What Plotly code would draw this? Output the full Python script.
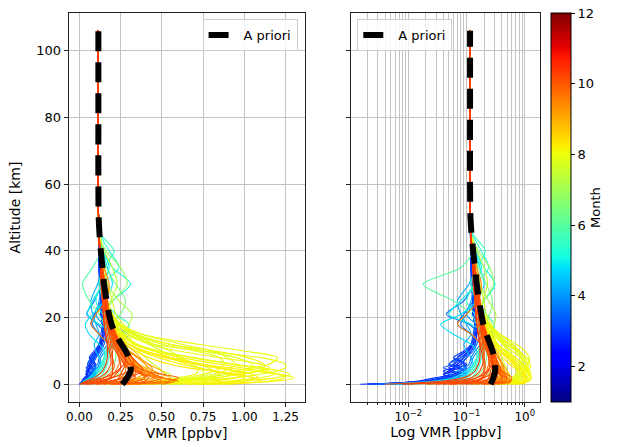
import numpy as np
import plotly.graph_objects as go

# ---------------- data ----------------
ALT_LOW = [0, 1, 2, 3, 4, 5, 6, 8, 10, 12, 15, 18, 21, 25, 30, 35, 40, 45]
ALT_TOP = [50, 60, 80, 106]
VMR_TOP = [0.116, 0.114, 0.113, 0.113]

APRIORI_ALT = [0, 2, 4, 6, 8, 10, 12, 15, 18, 21, 25, 30, 35, 40, 45, 50, 60, 80, 106]
APRIORI_VMR = [0.26, 0.29, 0.31, 0.31, 0.30, 0.28, 0.255, 0.22, 0.195, 0.18, 0.165,
               0.15, 0.14, 0.13, 0.122, 0.117, 0.115, 0.115, 0.115]

# blue group (late winter)
p_b1 = [0.002, 0.02, 0.05, 0.08, 0.05, 0.06, 0.08, 0.10, 0.12, 0.14, 0.15, 0.14, 0.13, 0.13, 0.125, 0.12, 0.118, 0.117]
p_b2 = [0.0015, 0.02, 0.04, 0.06, 0.08, 0.10, 0.09, 0.07, 0.10, 0.13, 0.15, 0.14, 0.13, 0.13, 0.13, 0.125, 0.12, 0.118]
p_b3 = [0.003, 0.015, 0.03, 0.05, 0.04, 0.07, 0.10, 0.06, 0.09, 0.12, 0.14, 0.15, 0.14, 0.13, 0.12, 0.12, 0.12, 0.118]
p_b4 = [0.004, 0.03, 0.06, 0.09, 0.06, 0.04, 0.06, 0.09, 0.11, 0.12, 0.13, 0.14, 0.14, 0.13, 0.125, 0.12, 0.118, 0.117]
p_b5 = [0.002, 0.025, 0.05, 0.07, 0.10, 0.08, 0.05, 0.08, 0.12, 0.14, 0.12, 0.07, 0.09, 0.13, 0.14, 0.13, 0.12, 0.118]
p_b6 = [0.006, 0.04, 0.07, 0.05, 0.08, 0.10, 0.08, 0.10, 0.13, 0.15, 0.16, 0.11, 0.045, 0.09, 0.13, 0.13, 0.12, 0.118]
p_b7 = [0.003, 0.03, 0.08, 0.10, 0.07, 0.09, 0.11, 0.12, 0.14, 0.17, 0.12, 0.08, 0.10, 0.14, 0.15, 0.14, 0.125, 0.118]
p_b8 = [0.008, 0.05, 0.08, 0.10, 0.09, 0.11, 0.12, 0.13, 0.16, 0.22, 0.30, 0.15, 0.10, 0.12, 0.13, 0.13, 0.12, 0.118]
p_b9 = [0.005, 0.03, 0.05, 0.04, 0.06, 0.05, 0.07, 0.09, 0.11, 0.13, 0.14, 0.14, 0.13, 0.13, 0.125, 0.12, 0.118, 0.117]
p_b10 = [0.004, 0.04, 0.07, 0.09, 0.11, 0.12, 0.13, 0.12, 0.10, 0.09, 0.12, 0.10, 0.08, 0.07, 0.11, 0.14, 0.13, 0.118]
p_b11 = [0.002, 0.02, 0.04, 0.07, 0.09, 0.07, 0.05, 0.07, 0.10, 0.12, 0.14, 0.14, 0.13, 0.13, 0.125, 0.12, 0.118, 0.117]
p_b12 = [0.003, 0.03, 0.06, 0.04, 0.05, 0.08, 0.06, 0.08, 0.11, 0.13, 0.14, 0.14, 0.13, 0.13, 0.125, 0.12, 0.118, 0.117]

# cyan / green group (spring - early summer)
p_c1 = [0.006, 0.04, 0.08, 0.10, 0.12, 0.13, 0.14, 0.15, 0.15, 0.12, 0.06, 0.036, 0.08, 0.15, 0.20, 0.17, 0.14, 0.12]
p_c2 = [0.01, 0.06, 0.10, 0.12, 0.13, 0.14, 0.15, 0.16, 0.18, 0.20, 0.18, 0.16, 0.15, 0.20, 0.31, 0.20, 0.14, 0.12]
p_c3 = [0.02, 0.08, 0.12, 0.14, 0.15, 0.16, 0.17, 0.18, 0.20, 0.22, 0.28, 0.30, 0.22, 0.15, 0.12, 0.15, 0.21, 0.13]
p_c4 = [0.01, 0.05, 0.09, 0.11, 0.12, 0.13, 0.14, 0.15, 0.16, 0.17, 0.17, 0.15, 0.12, 0.06, 0.018, 0.08, 0.13, 0.12]
p_c5 = [0.05, 0.10, 0.14, 0.16, 0.18, 0.20, 0.21, 0.22, 0.22, 0.20, 0.18, 0.20, 0.25, 0.28, 0.22, 0.16, 0.13, 0.12]
p_c6 = [0.08, 0.15, 0.20, 0.24, 0.26, 0.27, 0.28, 0.28, 0.26, 0.24, 0.20, 0.17, 0.16, 0.20, 0.29, 0.25, 0.16, 0.12]
p_c7 = [0.004, 0.03, 0.06, 0.08, 0.10, 0.12, 0.13, 0.15, 0.17, 0.20, 0.22, 0.12, 0.05, 0.08, 0.14, 0.18, 0.15, 0.12]
p_c8 = [0.15, 0.30, 0.40, 0.42, 0.40, 0.38, 0.35, 0.32, 0.30, 0.28, 0.27, 0.30, 0.32, 0.24, 0.17, 0.14, 0.13, 0.12]
p_c9 = [0.20, 0.35, 0.40, 0.38, 0.35, 0.33, 0.30, 0.28, 0.26, 0.25, 0.25, 0.22, 0.18, 0.19, 0.23, 0.20, 0.15, 0.12]
p_c10 = [0.01, 0.05, 0.09, 0.12, 0.14, 0.15, 0.16, 0.17, 0.18, 0.19, 0.20, 0.18, 0.14, 0.10, 0.14, 0.24, 0.18, 0.125]

# yellow group (summer)
p_y1 = [0.6, 1.0, 1.2, 1.28, 1.22, 1.1, 0.95, 0.7, 0.48, 0.35, 0.26, 0.21, 0.18, 0.16, 0.15, 0.14, 0.13, 0.12]
p_y2 = [0.4, 0.7, 0.95, 1.1, 1.2, 1.25, 1.25, 1.1, 0.75, 0.45, 0.28, 0.22, 0.19, 0.17, 0.15, 0.14, 0.13, 0.12]
p_y3 = [0.8, 1.15, 1.25, 1.2, 1.05, 0.9, 0.75, 0.55, 0.4, 0.3, 0.24, 0.2, 0.18, 0.16, 0.15, 0.14, 0.13, 0.12]
p_y4 = [0.3, 0.55, 0.75, 0.9, 1.0, 1.05, 1.05, 0.95, 0.75, 0.55, 0.35, 0.25, 0.2, 0.17, 0.15, 0.14, 0.13, 0.12]
p_y5 = [0.5, 0.8, 0.95, 1.0, 0.95, 0.85, 0.75, 0.55, 0.4, 0.3, 0.24, 0.2, 0.17, 0.16, 0.15, 0.14, 0.13, 0.12]
p_y6 = [0.35, 0.6, 0.8, 0.85, 0.82, 0.78, 0.72, 0.6, 0.5, 0.42, 0.32, 0.24, 0.2, 0.17, 0.15, 0.14, 0.13, 0.12]
p_y7 = [0.25, 0.45, 0.6, 0.7, 0.72, 0.7, 0.65, 0.55, 0.45, 0.35, 0.27, 0.22, 0.19, 0.17, 0.15, 0.14, 0.13, 0.12]
p_y8 = [0.3, 0.5, 0.55, 0.55, 0.5, 0.48, 0.45, 0.4, 0.36, 0.32, 0.3, 0.27, 0.22, 0.2, 0.17, 0.15, 0.13, 0.12]
p_y9 = [0.9, 1.1, 1.05, 0.95, 0.8, 0.65, 0.55, 0.42, 0.34, 0.28, 0.23, 0.2, 0.17, 0.16, 0.15, 0.14, 0.13, 0.12]
p_y10 = [0.4, 0.6, 0.75, 0.85, 0.95, 1.05, 1.15, 1.2, 1.0, 0.72, 0.38, 0.25, 0.2, 0.17, 0.15, 0.14, 0.13, 0.12]
p_y11 = [0.7, 1.2, 1.3, 1.22, 1.1, 0.98, 0.85, 0.62, 0.45, 0.33, 0.25, 0.2, 0.18, 0.16, 0.15, 0.14, 0.13, 0.12]
p_y12 = [0.35, 0.55, 0.7, 0.8, 0.88, 0.92, 0.95, 0.9, 0.8, 0.62, 0.38, 0.25, 0.2, 0.17, 0.15, 0.14, 0.13, 0.12]
p_y13 = [0.45, 0.7, 0.85, 0.95, 1.1, 1.15, 1.1, 0.85, 0.6, 0.42, 0.3, 0.23, 0.19, 0.17, 0.15, 0.14, 0.13, 0.12]
p_y14 = [0.55, 0.9, 1.1, 1.18, 1.15, 1.05, 0.92, 0.68, 0.47, 0.34, 0.26, 0.21, 0.18, 0.16, 0.15, 0.14, 0.13, 0.12]
p_y15 = [0.3, 0.5, 0.65, 0.75, 0.82, 0.86, 0.88, 0.85, 0.7, 0.5, 0.33, 0.24, 0.2, 0.17, 0.15, 0.14, 0.13, 0.12]
p_y16 = [0.65, 0.95, 1.0, 0.92, 0.82, 0.72, 0.62, 0.48, 0.37, 0.3, 0.24, 0.2, 0.18, 0.16, 0.15, 0.14, 0.13, 0.12]
p_y17 = [0.4, 0.62, 0.72, 0.75, 0.75, 0.72, 0.68, 0.62, 0.55, 0.45, 0.33, 0.25, 0.2, 0.17, 0.15, 0.14, 0.13, 0.12]
p_y18 = [0.35, 0.6, 0.82, 0.98, 1.08, 1.12, 1.12, 1.02, 0.82, 0.55, 0.33, 0.24, 0.2, 0.17, 0.15, 0.14, 0.13, 0.12]
p_y19 = [0.75, 1.0, 1.08, 1.05, 0.95, 0.82, 0.7, 0.52, 0.38, 0.3, 0.24, 0.2, 0.17, 0.16, 0.15, 0.14, 0.13, 0.12]

# orange group (late summer)
p_o1 = [0.3, 0.5, 0.55, 0.5, 0.45, 0.4, 0.36, 0.32, 0.28, 0.24, 0.2, 0.18, 0.16, 0.15, 0.14, 0.13, 0.125, 0.118]
p_o2 = [0.2, 0.35, 0.45, 0.48, 0.45, 0.42, 0.4, 0.35, 0.3, 0.26, 0.22, 0.19, 0.17, 0.15, 0.14, 0.13, 0.125, 0.118]
p_o3 = [0.25, 0.4, 0.4, 0.38, 0.36, 0.35, 0.34, 0.32, 0.3, 0.27, 0.23, 0.2, 0.17, 0.15, 0.14, 0.13, 0.125, 0.118]
p_o4 = [0.15, 0.28, 0.35, 0.38, 0.37, 0.35, 0.33, 0.3, 0.27, 0.24, 0.21, 0.18, 0.16, 0.15, 0.14, 0.13, 0.125, 0.118]
p_o5 = [0.4, 0.6, 0.5, 0.42, 0.38, 0.35, 0.32, 0.28, 0.25, 0.22, 0.19, 0.17, 0.16, 0.15, 0.14, 0.13, 0.125, 0.118]
p_o6 = [0.1, 0.2, 0.25, 0.27, 0.28, 0.28, 0.27, 0.25, 0.22, 0.18, 0.12, 0.07, 0.1, 0.16, 0.18, 0.15, 0.13, 0.118]
p_o7 = [0.35, 0.45, 0.5, 0.52, 0.5, 0.46, 0.42, 0.36, 0.3, 0.25, 0.21, 0.18, 0.16, 0.15, 0.14, 0.13, 0.125, 0.118]
p_o8 = [0.18, 0.3, 0.38, 0.42, 0.44, 0.44, 0.42, 0.36, 0.3, 0.25, 0.2, 0.17, 0.16, 0.15, 0.14, 0.13, 0.125, 0.118]
p_o9 = [0.45, 0.55, 0.5, 0.44, 0.4, 0.37, 0.34, 0.3, 0.26, 0.23, 0.2, 0.18, 0.16, 0.15, 0.14, 0.13, 0.125, 0.118]
p_o10 = [0.28, 0.42, 0.46, 0.45, 0.42, 0.38, 0.35, 0.31, 0.27, 0.24, 0.21, 0.18, 0.16, 0.15, 0.14, 0.13, 0.125, 0.118]
p_o11 = [0.2, 0.32, 0.36, 0.38, 0.4, 0.41, 0.4, 0.37, 0.33, 0.28, 0.23, 0.19, 0.17, 0.16, 0.15, 0.14, 0.128, 0.118]
p_o12 = [0.12, 0.25, 0.3, 0.32, 0.33, 0.33, 0.32, 0.3, 0.28, 0.25, 0.22, 0.19, 0.17, 0.16, 0.15, 0.135, 0.125, 0.118]
p_o13 = [0.5, 0.58, 0.48, 0.4, 0.35, 0.32, 0.3, 0.27, 0.24, 0.21, 0.19, 0.17, 0.16, 0.15, 0.14, 0.13, 0.125, 0.118]

# orange-red group (autumn)
p_r1 = [0.1, 0.2, 0.26, 0.3, 0.31, 0.3, 0.29, 0.27, 0.25, 0.23, 0.2, 0.18, 0.17, 0.16, 0.15, 0.135, 0.125, 0.118]
p_r2 = [0.05, 0.15, 0.2, 0.22, 0.24, 0.25, 0.25, 0.24, 0.22, 0.2, 0.18, 0.17, 0.16, 0.15, 0.14, 0.13, 0.125, 0.118]
p_r3 = [0.02, 0.1, 0.15, 0.18, 0.2, 0.21, 0.21, 0.2, 0.19, 0.18, 0.17, 0.16, 0.15, 0.14, 0.135, 0.13, 0.125, 0.118]
p_r4 = [0.2, 0.35, 0.4, 0.38, 0.35, 0.33, 0.3, 0.27, 0.24, 0.22, 0.19, 0.17, 0.16, 0.15, 0.14, 0.13, 0.125, 0.118]
p_r5 = [0.008, 0.06, 0.12, 0.15, 0.17, 0.18, 0.19, 0.19, 0.18, 0.17, 0.16, 0.15, 0.145, 0.14, 0.13, 0.128, 0.122, 0.117]
p_r6 = [0.3, 0.55, 0.6, 0.5, 0.4, 0.35, 0.31, 0.27, 0.24, 0.21, 0.19, 0.17, 0.16, 0.15, 0.14, 0.13, 0.125, 0.118]
p_r7 = [0.12, 0.25, 0.32, 0.34, 0.34, 0.33, 0.32, 0.3, 0.27, 0.24, 0.21, 0.18, 0.17, 0.16, 0.15, 0.135, 0.125, 0.118]
p_r8 = [0.004, 0.04, 0.09, 0.12, 0.14, 0.15, 0.16, 0.17, 0.17, 0.17, 0.16, 0.15, 0.145, 0.14, 0.135, 0.13, 0.123, 0.117]
p_r9 = [0.15, 0.22, 0.24, 0.25, 0.26, 0.27, 0.28, 0.28, 0.26, 0.24, 0.22, 0.2, 0.18, 0.17, 0.15, 0.14, 0.128, 0.118]
p_r10 = [0.06, 0.14, 0.18, 0.2, 0.22, 0.23, 0.24, 0.24, 0.23, 0.22, 0.2, 0.19, 0.18, 0.17, 0.16, 0.14, 0.128, 0.118]
p_r11 = [0.03, 0.12, 0.2, 0.26, 0.3, 0.32, 0.33, 0.32, 0.29, 0.25, 0.21, 0.18, 0.16, 0.15, 0.14, 0.13, 0.125, 0.118]
p_r12 = [0.25, 0.45, 0.5, 0.45, 0.4, 0.36, 0.33, 0.29, 0.26, 0.23, 0.2, 0.18, 0.165, 0.155, 0.145, 0.135, 0.125, 0.118]
p_r13 = [0.01, 0.08, 0.15, 0.2, 0.23, 0.25, 0.27, 0.28, 0.27, 0.25, 0.22, 0.19, 0.17, 0.16, 0.15, 0.135, 0.125, 0.118]
p_r14 = [0.18, 0.3, 0.34, 0.33, 0.31, 0.29, 0.27, 0.25, 0.23, 0.21, 0.19, 0.18, 0.17, 0.16, 0.15, 0.135, 0.125, 0.118]
p_r15 = [0.04, 0.18, 0.28, 0.35, 0.38, 0.38, 0.36, 0.32, 0.28, 0.24, 0.2, 0.17, 0.16, 0.15, 0.14, 0.13, 0.124, 0.118]
p_r16 = [0.35, 0.5, 0.45, 0.4, 0.36, 0.34, 0.32, 0.3, 0.27, 0.24, 0.21, 0.19, 0.17, 0.16, 0.15, 0.135, 0.125, 0.118]
p_r17 = [0.08, 0.16, 0.19, 0.2, 0.2, 0.2, 0.2, 0.2, 0.2, 0.19, 0.18, 0.17, 0.16, 0.15, 0.14, 0.13, 0.124, 0.118]
p_r18 = [0.22, 0.4, 0.42, 0.38, 0.33, 0.3, 0.28, 0.26, 0.24, 0.22, 0.2, 0.19, 0.18, 0.17, 0.155, 0.14, 0.128, 0.118]

PROFILES = [p_b1, p_b2, p_b3, p_b4, p_b5, p_b6, p_b7, p_b8, p_b9, p_b10, p_b11, p_b12,
            p_c1, p_c2, p_c3, p_c4, p_c5, p_c6, p_c7, p_c8, p_c9, p_c10,
            p_y1, p_y2, p_y3, p_y4, p_y5, p_y6, p_y7, p_y8, p_y9, p_y10, p_y11, p_y12, p_y13,
            p_y14, p_y15, p_y16, p_y17, p_y18, p_y19,
            p_o1, p_o2, p_o3, p_o4, p_o5, p_o6, p_o7, p_o8, p_o9, p_o10, p_o11, p_o12, p_o13,
            p_r1, p_r2, p_r3, p_r4, p_r5, p_r6, p_r7, p_r8, p_r9, p_r10,
            p_r11, p_r12, p_r13, p_r14, p_r15, p_r16, p_r17, p_r18]
MONTHS = [2.4, 2.7, 2.9, 3.1, 3.3, 3.5, 3.7, 4.0, 2.2, 4.3, 3.0, 2.6,
          4.8, 5.2, 5.6, 6.0, 6.4, 6.8, 5.0, 7.2, 7.4, 5.4,
          8.0, 7.9, 8.1, 7.8, 8.2, 7.7, 8.0, 7.6, 8.3, 7.95, 8.1, 7.85, 8.05,
          8.0, 7.9, 8.15, 7.75, 8.05, 8.25,
          9.0, 9.2, 8.8, 9.1, 9.4, 9.5, 8.9, 9.3, 9.0, 9.2, 8.7, 9.3, 9.6,
          10.0, 10.2, 9.9, 10.1, 10.3, 9.8, 10.0, 10.4, 10.1, 9.7,
          10.2, 9.9, 10.3, 10.0, 10.1, 9.8, 10.2, 10.05]

MONTH_TICKS = [2, 4, 6, 8, 10, 12]
LOG_TICKS = [0.01, 0.1, 1]
LOG_TICKTEXT = ["10<sup>\u22122</sup>", "10<sup>\u22121</sup>", "10<sup>0</sup>"]

# ---------------- style helpers ----------------
_R = ([0, 0.35, 0.66, 0.89, 1], [0, 0, 1, 1, 0.5])
_G = ([0, 0.125, 0.375, 0.64, 0.91, 1], [0, 0, 1, 1, 0, 0])
_B = ([0, 0.11, 0.34, 0.65, 1], [0.5, 1, 1, 0, 0])


def jet(f):
    r = np.interp(f, *_R)
    g = np.interp(f, *_G)
    b = np.interp(f, *_B)
    return "rgb(%d,%d,%d)" % (round(r * 255), round(g * 255), round(b * 255))


stops = sorted(set(_R[0] + _G[0] + _B[0]))
JET_SCALE = [[s, jet(s)] for s in stops]
CMIN, CMAX = 1, 12

FONT = "DejaVu Sans"
fig = go.Figure()

order = np.argsort(MONTHS, kind="stable")
for i in order:
    xs = PROFILES[i] + VMR_TOP
    ys = ALT_LOW + ALT_TOP
    col = jet((MONTHS[i] - CMIN) / (CMAX - CMIN))
    for xa in ("x", "x2"):
        fig.add_trace(go.Scatter(x=xs, y=ys, mode="lines", xaxis=xa, yaxis="y" if xa == "x" else "y2",
                                 line=dict(color=col, width=1.1, shape="spline", smoothing=0.8),
                                 showlegend=False, hoverinfo="skip"))

fig.add_trace(go.Scatter(x=APRIORI_VMR, y=APRIORI_ALT, mode="lines", name="A priori",
                         xaxis="x", yaxis="y", legend="legend",
                         line=dict(color="black", width=6, dash="20px,11px", shape="spline")))
fig.add_trace(go.Scatter(x=APRIORI_VMR, y=APRIORI_ALT, mode="lines", name="A priori",
                         xaxis="x2", yaxis="y2", legend="legend2",
                         line=dict(color="black", width=6, dash="20px,11px", shape="spline")))

# colorbar carrier
fig.add_trace(go.Scatter(x=[None], y=[None], mode="markers", xaxis="x2", yaxis="y2", showlegend=False,
                         marker=dict(color=[CMIN], cmin=CMIN, cmax=CMAX, colorscale=JET_SCALE, showscale=True,
                                     colorbar=dict(x=551 / 622, xanchor="left", y=1 - 207.5 / 447, yanchor="middle",
                                                   len=389 / 447, lenmode="fraction", thickness=20,
                                                   thicknessmode="pixels", xpad=0, ypad=0,
                                                   outlinewidth=1, outlinecolor="black",
                                                   tickvals=MONTH_TICKS, ticks="outside", ticklen=4,
                                                   tickcolor="black", tickfont=dict(size=13, color="black"),
                                                   title=dict(text="Month", side="right",
                                                              font=dict(size=13, color="black"))))))

GRID = "#c4c4c4"
common_axis = dict(showline=True, linecolor="#222", linewidth=1, mirror=True, ticks="outside",
                   ticklen=4, tickcolor="#222", showgrid=True, gridcolor=GRID, gridwidth=1.2,
                   zeroline=False, tickfont=dict(size=12, color="black"),
                   title_font=dict(size=14, color="black"))

ydom = [1 - 402 / 447, 1 - 13 / 447]
minor_vals = [k * 10.0 ** e for e in (-3, -2, -1, 0) for k in range(2, 10)]

fig.update_layout(
    width=622, height=447, margin=dict(l=0, r=0, t=0, b=0),
    paper_bgcolor="white", plot_bgcolor="white",
    font=dict(family=FONT, color="black"),
    xaxis=dict(common_axis, domain=[66 / 622, 303 / 622], range=[-0.065, 1.365],
               tickvals=[0, 0.25, 0.5, 0.75, 1.0, 1.25], tickformat=".2f",
               title=dict(text="VMR [ppbv]", standoff=4), anchor="y"),
    yaxis=dict(common_axis, domain=ydom, range=[-5.3, 111.3], tickvals=[0, 20, 40, 60, 80, 100],
               tickfont=dict(size=13, color="black"),
               title=dict(text="Altitude [km]", standoff=12), anchor="x"),
    xaxis2=dict(common_axis, domain=[350 / 622, 540 / 622], type="log", range=[-2.98, 0.27],
                tickvals=LOG_TICKS, ticktext=LOG_TICKTEXT,
                minor=dict(tickvals=minor_vals, ticks="outside", ticklen=2, tickcolor="#222",
                           showgrid=True, gridcolor=GRID, gridwidth=1),
                title=dict(text="Log VMR [ppbv]", standoff=2), anchor="y2"),
    yaxis2=dict(common_axis, domain=ydom, range=[-5.3, 111.3], tickvals=[0, 20, 40, 60, 80, 100],
                showticklabels=False, anchor="x2"),
    legend=dict(x=296 / 622, xanchor="right", y=1 - 19 / 447, yanchor="top",
                bgcolor="rgba(255,255,255,0.85)", bordercolor="#cccccc", borderwidth=1,
                font=dict(size=13, color="black")),
    legend2=dict(x=356 / 622, xanchor="left", y=1 - 19 / 447, yanchor="top",
                 bgcolor="rgba(255,255,255,0.85)", bordercolor="#cccccc", borderwidth=1,
                 font=dict(size=13, color="black")),
)

fig.write_html("out.html", config={"displayModeBar": False},
               post_script="document.body.style.margin='0';document.body.style.overflow='hidden';")
